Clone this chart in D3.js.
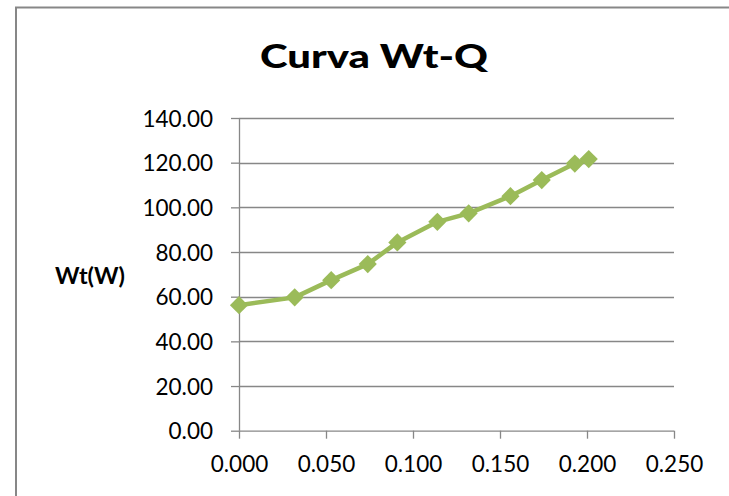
<!DOCTYPE html>
<html>
<head>
<meta charset="utf-8">
<script src="https://cdn.jsdelivr.net/npm/d3@7"></script>
<style>
  html, body { margin: 0; padding: 0; background: #fff; }
  svg { display: block; }
  text { font-family: Lato, "Open Sans", sans-serif; fill: #000; }
</style>
</head>
<body>
<svg id="chart" width="729" height="496"></svg>
<script>
// Flow rate Q and total power Wt measurements
const caudal = [0.000, 0.032, 0.053, 0.074, 0.091, 0.114, 0.132, 0.156, 0.174, 0.193, 0.201];
const potencia = [56.2, 59.7, 67.4, 74.6, 84.3, 93.5, 97.3, 105.0, 112.2, 119.6, 121.6];
const xTicks = [0, 0.05, 0.10, 0.15, 0.20, 0.25];
const yTicks = [0, 20, 40, 60, 80, 100, 120, 140];
const titulo = "Curva Wt-Q";
const etiquetaY = "Wt(W)";

const svg = d3.select("#chart");
const gris = "#878787";
const verde = "#9BBB59";

// outer frame of the chart area (left and top edges visible)
svg.append("path")
  .attr("d", "M16,500 L16,7.5 L735,7.5")
  .attr("fill", "none")
  .attr("stroke", gris)
  .attr("stroke-width", 2);

const x = d3.scaleLinear().domain([0, 0.25]).range([239, 674]);
const y = d3.scaleLinear().domain([0, 140]).range([430.7, 118]);

// horizontal gridlines
svg.append("g")
  .selectAll("line")
  .data(yTicks.filter(d => d > 0))
  .join("line")
  .attr("x1", x(0)).attr("x2", x(0.25))
  .attr("y1", d => Math.round(y(d)) + 0.5)
  .attr("y2", d => Math.round(y(d)) + 0.5)
  .attr("stroke", gris)
  .attr("stroke-width", 1.3);

// y axis
const yAxis = d3.axisLeft(y).tickValues(yTicks).tickSize(8).tickPadding(18)
  .tickFormat(d3.format(".2f"));
const gy = svg.append("g")
  .attr("transform", `translate(${x(0)},0)`)
  .call(yAxis);
gy.select(".domain").attr("stroke", gris).attr("stroke-width", 1.3)
  .attr("d", `M0.5,${y(0)}V${y(140)}`);
gy.selectAll(".tick line").attr("stroke", gris).attr("stroke-width", 1.3);
gy.selectAll(".tick text")
  .attr("font-family", "Lato, sans-serif")
  .attr("font-size", 22.5)
  .attr("dy", "0.36em")
  .attr("fill", "#000");

// x axis
const xAxis = d3.axisBottom(x).tickValues(xTicks).tickSize(8).tickPadding(17)
  .tickFormat(d3.format(".3f"));
const gx = svg.append("g")
  .attr("transform", `translate(0,${y(0)})`)
  .call(xAxis);
gx.select(".domain").attr("stroke", gris).attr("stroke-width", 1.3)
  .attr("d", `M${x(0)},0.5H${x(0.25)}`);
gx.selectAll(".tick line").attr("stroke", gris).attr("stroke-width", 1.3);
gx.selectAll(".tick text")
  .attr("font-family", "Lato, sans-serif")
  .attr("font-size", 22.5)
  .attr("fill", "#000");

// data series
const puntos = caudal.map((q, i) => [q, potencia[i]]);
svg.append("path")
  .datum(puntos)
  .attr("fill", "none")
  .attr("stroke", verde)
  .attr("stroke-width", 4.5)
  .attr("stroke-linejoin", "round")
  .attr("d", d3.line().x(d => x(d[0])).y(d => y(d[1])));

const rombo = d3.symbol().type(d3.symbolSquare).size(165);
svg.append("g")
  .selectAll("path")
  .data(puntos)
  .join("path")
  .attr("d", rombo)
  .attr("transform", d => `translate(${x(d[0])},${y(d[1])}) rotate(45)`)
  .attr("fill", verde);

// title
svg.append("text")
  .attr("x", 374).attr("y", 68)
  .attr("text-anchor", "middle")
  .attr("font-weight", 900)
  .attr("font-size", 33)
  .attr("textLength", 228)
  .attr("lengthAdjust", "spacingAndGlyphs")
  .text(titulo);

// y axis title
svg.append("text")
  .attr("x", 90).attr("y", 284)
  .attr("text-anchor", "middle")
  .attr("font-weight", "bold")
  .attr("font-size", 23)
  .attr("textLength", 70)
  .attr("lengthAdjust", "spacingAndGlyphs")
  .text(etiquetaY);
</script>
</body>
</html>
